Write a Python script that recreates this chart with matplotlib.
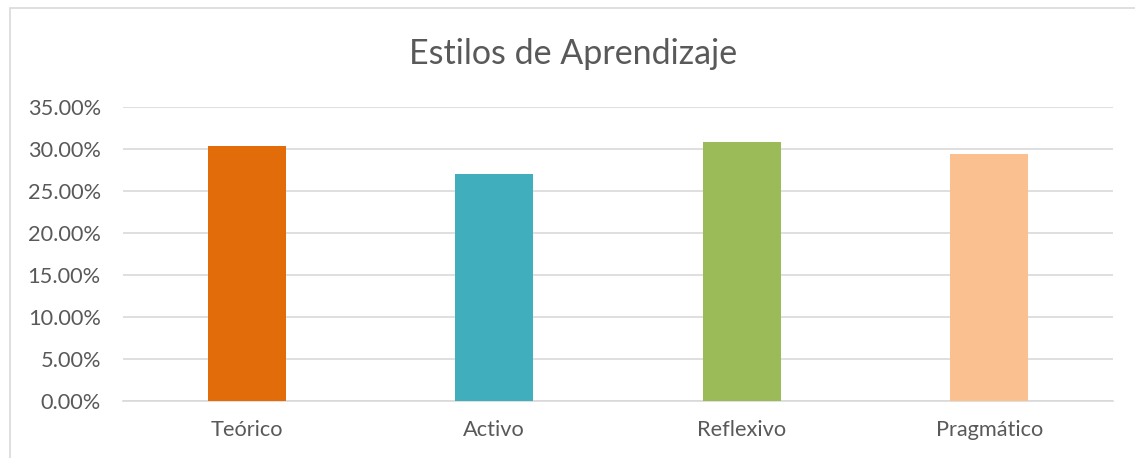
import matplotlib
matplotlib.use("Agg")
import matplotlib.pyplot as plt
from matplotlib.ticker import FuncFormatter, MultipleLocator
from matplotlib.patches import Rectangle

categories = ["Teórico", "Activo", "Reflexivo", "Pragmático"]
values = [30.35, 27.02, 30.83, 29.40]
colors = ["#E36C0A", "#41AEBD", "#9BBB59", "#FAC090"]
title = "Estilos de Aprendizaje"

plt.rcParams['font.family'] = ['Lato', 'DejaVu Sans']
text_color = "#595959"

fig = plt.figure(figsize=(11.35, 4.58), dpi=100)
W, H = 1135, 458
ax = fig.add_axes([123 / W, 1 - 401 / H, (1113 - 123) / W, (401 - 107) / H])

# chart frame (right and bottom edges fall outside the image)
fig.patches.append(Rectangle((10 / W, -0.05), 1.2, (1 - 8.5 / H) + 0.05,
                             transform=fig.transFigure, fill=False,
                             edgecolor="#D9D9D9", linewidth=1.2))

x = range(len(categories))
ax.bar(x, values, width=0.315, color=colors, zorder=3)
ax.set_xlim(-0.5, len(categories) - 0.5)
ax.set_ylim(0, 35)
ax.yaxis.set_major_locator(MultipleLocator(5))
ax.yaxis.set_major_formatter(FuncFormatter(lambda v, p: f"{v:.2f}%"))
ax.set_xticks(list(x))
ax.set_xticklabels(categories)
ax.grid(axis="y", color="#D9D9D9", linewidth=1.2, zorder=0)
for s in ["top", "right", "left"]:
    ax.spines[s].set_visible(False)
ax.spines["bottom"].set_color("#D9D9D9")
ax.spines["bottom"].set_linewidth(1.2)
ax.tick_params(axis="both", length=0, labelsize=15.7, colors=text_color)
ax.tick_params(axis="x", pad=14)
ax.tick_params(axis="y", pad=16)

fig.text(573 / W, 1 - 54 / H, title, ha="center", va="center",
         fontsize=24.5, color=text_color)

fig.savefig("out.png", dpi=100)
